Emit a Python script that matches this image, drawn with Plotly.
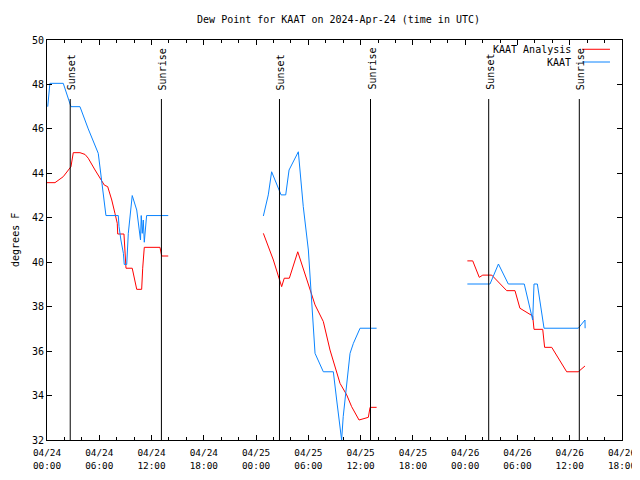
import plotly.graph_objects as go

# KAAT observations (blue)
obs_times = [
    "2024-04-24 00:05", "2024-04-24 00:14", "2024-04-24 00:20", "2024-04-24 01:52", "2024-04-24 02:38",
    "2024-04-24 02:45", "2024-04-24 03:47", "2024-04-24 04:44", "2024-04-24 05:53", "2024-04-24 06:17",
    "2024-04-24 06:28", "2024-04-24 06:46", "2024-04-24 08:11", "2024-04-24 08:16", "2024-04-24 08:29",
    "2024-04-24 08:46", "2024-04-24 08:52", "2024-04-24 09:09", "2024-04-24 09:20", "2024-04-24 09:32",
    "2024-04-24 09:47", "2024-04-24 10:18", "2024-04-24 10:35", "2024-04-24 10:44", "2024-04-24 10:49",
    "2024-04-24 10:56", "2024-04-24 11:03", "2024-04-24 11:10", "2024-04-24 11:26", "2024-04-24 13:55",
    "2024-04-24 19:00",
    "2024-04-25 00:50", "2024-04-25 01:24", "2024-04-25 01:47", "2024-04-25 02:22", "2024-04-25 02:52",
    "2024-04-25 03:24", "2024-04-25 03:47", "2024-04-25 04:51", "2024-04-25 05:25", "2024-04-25 06:00",
    "2024-04-25 06:23", "2024-04-25 06:46", "2024-04-25 07:43", "2024-04-25 08:52", "2024-04-25 09:15",
    "2024-04-25 09:45", "2024-04-25 09:49", "2024-04-25 10:00", "2024-04-25 10:24", "2024-04-25 10:47",
    "2024-04-25 11:10", "2024-04-25 11:56", "2024-04-25 13:50",
    "2024-04-25 19:00",
    "2024-04-26 00:15", "2024-04-26 02:51", "2024-04-26 03:49", "2024-04-26 04:57", "2024-04-26 06:47",
    "2024-04-26 07:45", "2024-04-26 07:54", "2024-04-26 08:17", "2024-04-26 09:03", "2024-04-26 12:59",
    "2024-04-26 13:45", "2024-04-26 13:46",
]
obs_values = [
    47.0, 47.8, 48.05, 48.05, 47.2,
    47.0, 47.0, 46.0, 44.9, 43.7,
    43.25, 42.1, 42.1, 41.6, 41.0,
    40.4, 39.9, 39.9, 41.3, 42.05,
    43.0, 42.35, 41.45, 41.0, 42.1,
    41.3, 41.9, 40.9, 42.1, 42.1,
    None,
    42.08, 43.03, 44.07, 43.48, 43.03,
    43.03, 44.15, 44.97, 42.5, 40.55,
    38.3, 35.9, 35.07, 35.07, 33.8,
    32.15, 32.0, 33.05, 34.4, 35.9,
    36.35, 37.03, 37.03,
    None,
    39.02, 39.02, 39.92, 39.02, 39.02,
    37.4, 39.02, 39.02, 37.03, 37.03,
    37.4, 37.03,
]

# KAAT Analysis (red)
ana_times = [
    "2024-04-24 00:00", "2024-04-24 00:55", "2024-04-24 01:52", "2024-04-24 02:32", "2024-04-24 02:45",
    "2024-04-24 03:01", "2024-04-24 03:47", "2024-04-24 04:22", "2024-04-24 04:44", "2024-04-24 05:31",
    "2024-04-24 06:17", "2024-04-24 06:35", "2024-04-24 06:58", "2024-04-24 07:26", "2024-04-24 07:48",
    "2024-04-24 08:04", "2024-04-24 08:07", "2024-04-24 08:50", "2024-04-24 09:04", "2024-04-24 09:47",
    "2024-04-24 10:18", "2024-04-24 10:52", "2024-04-24 10:59", "2024-04-24 11:10", "2024-04-24 12:58",
    "2024-04-24 13:10", "2024-04-24 13:55",
    "2024-04-24 19:00",
    "2024-04-25 00:50", "2024-04-25 01:59", "2024-04-25 02:38", "2024-04-25 02:56", "2024-04-25 03:14",
    "2024-04-25 03:49", "2024-04-25 04:47", "2024-04-25 06:11", "2024-04-25 06:46", "2024-04-25 07:43",
    "2024-04-25 08:29", "2024-04-25 09:38", "2024-04-25 10:24", "2024-04-25 10:58", "2024-04-25 11:49",
    "2024-04-25 12:53", "2024-04-25 13:05", "2024-04-25 13:50",
    "2024-04-25 19:00",
    "2024-04-26 00:15", "2024-04-26 00:52", "2024-04-26 01:37", "2024-04-26 02:01", "2024-04-26 03:03",
    "2024-04-26 03:49", "2024-04-26 04:46", "2024-04-26 05:43", "2024-04-26 06:17", "2024-04-26 07:45",
    "2024-04-26 07:54", "2024-04-26 08:54", "2024-04-26 09:07", "2024-04-26 09:56", "2024-04-26 11:39",
    "2024-04-26 12:59", "2024-04-26 13:45",
]
ana_values = [
    43.58, 43.58, 43.85, 44.2, 44.3,
    44.93, 44.93, 44.85, 44.68, 44.15,
    43.62, 43.47, 43.4, 42.8, 42.2,
    41.75, 41.27, 41.27, 39.73, 39.73,
    38.78, 38.78, 39.73, 40.67, 40.67,
    40.28, 40.28,
    None,
    41.3, 40.1, 39.28, 38.9, 39.28,
    39.28, 40.47, 38.75, 38.08, 37.33,
    36.05, 34.55, 34.03, 33.5, 32.9,
    33.02, 33.47, 33.47,
    None,
    40.06, 40.06, 39.32, 39.42, 39.42,
    39.12, 38.72, 38.72, 37.93, 37.58,
    36.98, 36.98, 36.17, 36.17, 35.07,
    35.07, 35.33,
]

sun_times = ["2024-04-24 02:40", "2024-04-24 13:08", "2024-04-25 02:41",
             "2024-04-25 13:08", "2024-04-26 02:42", "2024-04-26 13:06"]
sun_labels = ["Sunset", "Sunrise", "Sunset", "Sunrise", "Sunset", "Sunrise"]

tick_vals = ["2024-04-24 00:00", "2024-04-24 06:00", "2024-04-24 12:00", "2024-04-24 18:00",
             "2024-04-25 00:00", "2024-04-25 06:00", "2024-04-25 12:00", "2024-04-25 18:00",
             "2024-04-26 00:00", "2024-04-26 06:00", "2024-04-26 12:00", "2024-04-26 18:00"]
tick_text = ["04/24<br>00:00", "04/24<br>06:00", "04/24<br>12:00", "04/24<br>18:00",
             "04/25<br>00:00", "04/25<br>06:00", "04/25<br>12:00", "04/25<br>18:00",
             "04/26<br>00:00", "04/26<br>06:00", "04/26<br>12:00", "04/26<br>18:00"]

FONT = "DejaVu Sans Mono"
RED = "#ff0000"
BLUE = "#0a84ff"

# page has an 8px body margin: figure is placed at (8, 8); keep it inside the window height
W, H = 632, 464

fig = go.Figure()
fig.add_trace(go.Scatter(x=ana_times, y=ana_values, mode="lines", name="KAAT Analysis",
                         line=dict(color=RED, width=1), connectgaps=False))
fig.add_trace(go.Scatter(x=obs_times, y=obs_values, mode="lines", name="KAAT",
                         line=dict(color=BLUE, width=1), connectgaps=False))

for t, lab in zip(sun_times, sun_labels):
    fig.add_shape(type="line", xref="x", yref="paper", x0=t, x1=t, y0=0, y1=0.8525,
                  line=dict(color="black", width=1))
    fig.add_annotation(x=t, xref="x", y=0.87, yref="paper", text=lab, textangle=-90,
                       showarrow=False, xanchor="center", yanchor="bottom", xshift=1,
                       font=dict(family=FONT, size=10, color="black"))

# legend (gnuplot style: text then line sample)
leg = [("KAAT Analysis", RED, 0.9768), ("KAAT", BLUE, 0.945)]
for name, col, yp in leg:
    fig.add_annotation(x=0.9148, xref="paper", y=yp, yref="paper", text=name,
                       showarrow=False, xanchor="right", yanchor="middle",
                       font=dict(family=FONT, size=10, color="black"))
    fig.add_shape(type="line", xref="paper", yref="paper", x0=0.9304, x1=0.9791,
                  y0=yp, y1=yp, line=dict(color=col, width=1))

fig.add_annotation(x=-0.0557, xref="paper", y=0.5, yref="paper", text="degrees F",
                   textangle=-90, showarrow=False, xanchor="center", yanchor="middle",
                   font=dict(family=FONT, size=10, color="black"))

fig.update_layout(
    width=W, height=H,
    margin=dict(l=39, r=18, t=32, b=32, autoexpand=False),
    paper_bgcolor="white", plot_bgcolor="white",
    showlegend=False,
    font=dict(family=FONT, size=10, color="black"),
    title=dict(text="Dew Point for KAAT on 2024-Apr-24 (time in UTC)", x=0.523, xanchor="center",
               y=1 - 11 / H, yanchor="middle", yref="container",
               font=dict(family=FONT, size=10, color="black")),
    xaxis=dict(type="date", range=["2024-04-24 00:00", "2024-04-26 18:00"],
               tickvals=tick_vals, ticktext=tick_text, ticks="inside", ticklen=5,
               tickcolor="black", showgrid=False, zeroline=False, automargin=False,
               showline=True, linecolor="black", linewidth=1, mirror="ticks",
               ticklabelstandoff=4,
               minor=dict(dtick=2 * 3600000, ticks="inside", ticklen=3, tickcolor="black",
                          showgrid=False),
               tickfont=dict(family=FONT, size=9.4)),
    yaxis=dict(range=[32, 50], dtick=2, tick0=32, ticks="inside", ticklen=5,
               tickcolor="black", showgrid=False, zeroline=False, automargin=False,
               showline=True, linecolor="black", linewidth=1, mirror="ticks",
               tickfont=dict(family=FONT, size=10)),
)

fig.write_html("out.html")
